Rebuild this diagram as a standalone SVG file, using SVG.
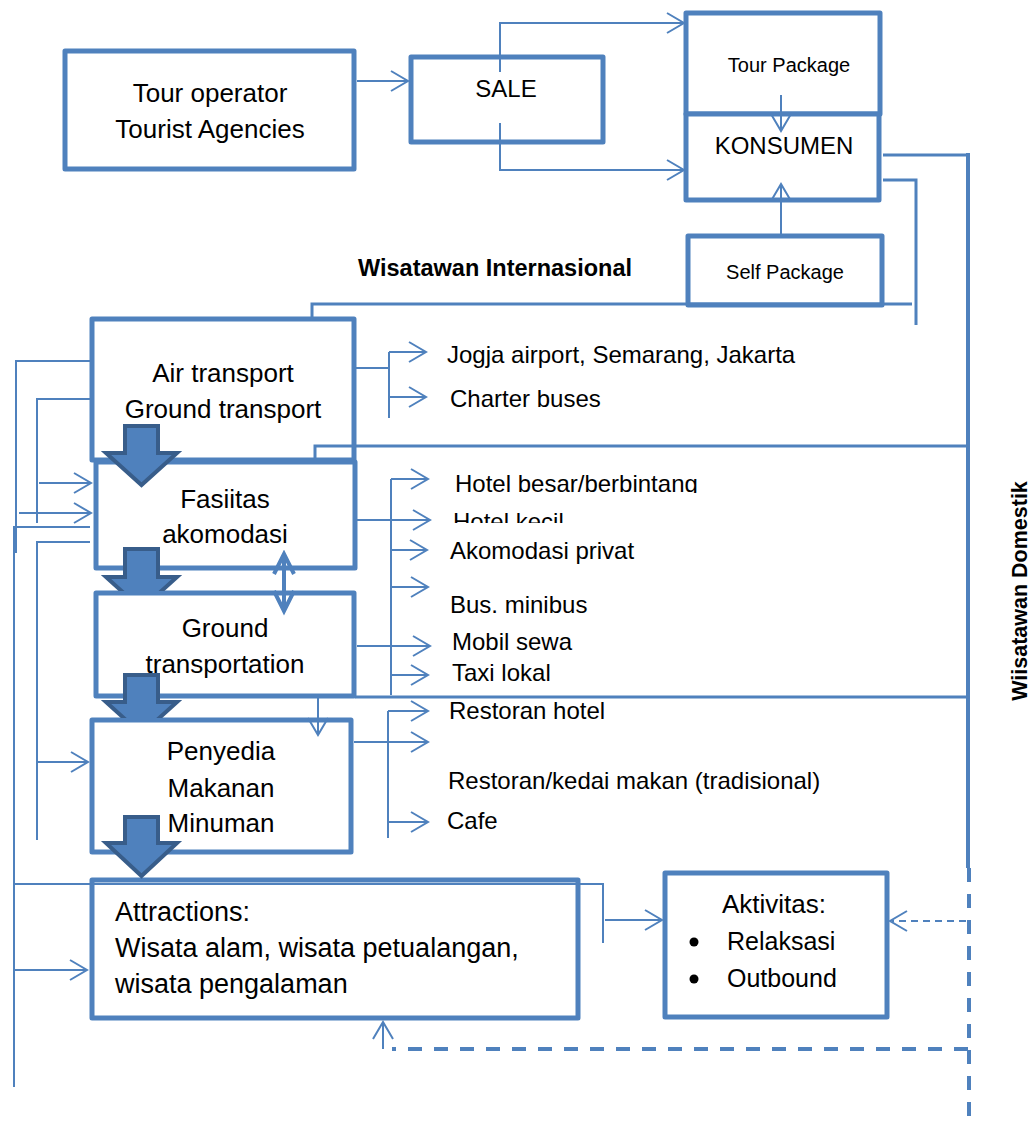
<svg xmlns="http://www.w3.org/2000/svg" width="1030" height="1121" viewBox="0 0 1030 1121">
  <defs>
    <style>
      .box{fill:#fff;stroke:#4F81BD;stroke-width:5;stroke-linejoin:round}
      .ln{fill:none;stroke:#4F81BD;stroke-width:2}
      .lnb{fill:none;stroke:#4F81BD;stroke-width:3}
      .lnk{fill:none;stroke:#4F81BD;stroke-width:4}
      .dash{fill:none;stroke:#4F81BD;stroke-width:4;stroke-dasharray:14 12}
      .dashs{fill:none;stroke:#4F81BD;stroke-width:2;stroke-dasharray:7 5}
      .blk{fill:#4F81BD;stroke:#385D8A;stroke-width:4;stroke-linejoin:miter}
      text{font-family:"Liberation Sans",Arial,sans-serif;fill:#000}
      .lbl{font-size:26px}
      .mid{text-anchor:middle}
      .item{font-size:24px}
      .sm{font-size:20px}
      .bold{font-weight:bold}
    </style>
    <marker id="open" markerUnits="userSpaceOnUse" markerWidth="24" markerHeight="26" viewBox="-20 -13 22 26" refX="0" refY="0" orient="auto">
      <path d="M-17,-10 L0,0 L-17,10" fill="none" stroke="#4F81BD" stroke-width="2"/>
    </marker>
    <marker id="openb" markerUnits="userSpaceOnUse" markerWidth="30" markerHeight="30" viewBox="-24 -15 27 30" refX="0" refY="0" orient="auto">
      <path d="M-20,-10 L0,0 L-20,10" fill="none" stroke="#4F81BD" stroke-width="4"/>
    </marker>
    <clipPath id="cutHotel1"><rect x="440" y="460" width="300" height="33"/></clipPath>
    <clipPath id="cutHotel2"><rect x="440" y="505" width="300" height="18"/></clipPath>
    <clipPath id="cutA2"><rect x="90" y="540" width="100" height="51"/></clipPath>
    <clipPath id="cutA3"><rect x="90" y="665" width="100" height="53"/></clipPath>
  </defs>

  <!-- nodes -->
  <g id="tour-operator">
    <rect class="box" x="65" y="51" width="289" height="118"/>
    <text class="lbl mid" x="210" y="102">Tour operator</text>
    <text class="lbl mid" x="210" y="138">Tourist Agencies</text>
  </g>

  <g id="sale">
    <rect class="box" x="411" y="57" width="192" height="85"/>
    <text class="mid" x="506" y="97" font-size="24">SALE</text>
  </g>

  <g id="tour-package">
    <rect class="box" x="686" y="13" width="194" height="101"/>
    <text class="sm mid" x="789" y="72">Tour Package</text>
  </g>

  <g id="konsumen">
    <rect class="box" x="686" y="114" width="193" height="86"/>
    <text class="mid" x="784" y="154" font-size="24">KONSUMEN</text>
  </g>

  <g id="self-package">
    <rect class="box" x="688" y="236" width="194" height="69"/>
    <text class="sm mid" x="785" y="279">Self Package</text>
  </g>

  <g id="label-internasional">
    <text class="bold" x="358" y="276" font-size="23.5">Wisatawan Internasional</text>
  </g>

  <g id="label-domestik">
    <text class="bold mid" font-size="21.5" transform="translate(1027,591) rotate(-90)">Wiisatawan Domestik</text>
  </g>

  <g id="air-transport">
    <rect class="box" x="92" y="319" width="262" height="141"/>
    <text class="lbl mid" x="223" y="382">Air transport</text>
    <text class="lbl mid" x="223" y="418">Ground transport</text>
  </g>

  <g id="fasilitas-akomodasi">
    <rect class="box" x="96" y="462" width="259" height="106"/>
    <text class="lbl mid" x="225" y="508">Fasiitas</text>
    <text class="lbl mid" x="225" y="543">akomodasi</text>
  </g>

  <g id="ground-transportation">
    <rect class="box" x="96" y="593" width="258" height="103"/>
    <text class="lbl mid" x="225" y="637">Ground</text>
    <text class="lbl mid" x="225" y="673">transportation</text>
  </g>

  <g id="penyedia-makanan">
    <rect class="box" x="92" y="720" width="259" height="132"/>
    <text class="lbl mid" x="221" y="760">Penyedia</text>
    <text class="lbl mid" x="221" y="797">Makanan</text>
    <text class="lbl mid" x="221" y="832">Minuman</text>
  </g>

  <g id="attractions">
    <rect class="box" x="92" y="880" width="486" height="138"/>
    <text x="115" y="921" font-size="27">Attractions:</text>
    <text x="115" y="957" font-size="27">Wisata alam, wisata petualangan,</text>
    <text x="115" y="993" font-size="27">wisata pengalaman</text>
  </g>

  <g id="aktivitas">
    <rect class="box" x="665" y="873" width="222" height="144"/>
    <text x="722" y="913" font-size="26">Aktivitas:</text>
    <circle cx="694" cy="942" r="4.5" fill="#000"/>
    <text x="727" y="950" font-size="25">Relaksasi</text>
    <circle cx="694" cy="979" r="4.5" fill="#000"/>
    <text x="727" y="987" font-size="25">Outbound</text>
  </g>

  <g id="list-transport">
    <text class="item" x="447" y="363">Jogja airport, Semarang, Jakarta</text>
    <text class="item" x="450" y="407">Charter buses</text>
  </g>

  <g id="list-akomodasi">
    <text class="item" x="455" y="492" clip-path="url(#cutHotel1)">Hotel besar/berbintang</text>
    <text class="item" x="453" y="530" clip-path="url(#cutHotel2)">Hotel kecil</text>
    <text class="item" x="450" y="559">Akomodasi privat</text>
    <text class="item" x="450" y="613">Bus. minibus</text>
    <text class="item" x="452" y="650">Mobil sewa</text>
    <text class="item" x="452" y="681">Taxi lokal</text>
  </g>

  <g id="list-makanan">
    <text class="item" x="449" y="719">Restoran hotel</text>
    <text class="item" x="448" y="789">Restoran/kedai makan (tradisional)</text>
    <text class="item" x="447" y="829">Cafe</text>
  </g>

  <!-- connectors -->
  <g id="connectors">
    <!-- top row -->
    <path class="ln" d="M357 81 H408" marker-end="url(#open)"/>
    <path class="ln" d="M500 72 V23 H684" marker-end="url(#open)"/>
    <path class="ln" d="M500 123 V170 H684" marker-end="url(#open)"/>
    <path class="ln" d="M781 95 V131" marker-end="url(#open)"/>
    <path class="ln" d="M781 235 V184" marker-end="url(#open)"/>

    <!-- right-hand feeders -->
    <path class="lnb" d="M883 155 H968"/>
    <path class="lnk" d="M968 153 V868"/>
    <path class="dash" d="M969 868 V1121"/>
    <path class="lnb" d="M883 180 H916 V325"/>
    <path class="lnb" d="M312 318 V304 H912"/>
    <path class="lnb" d="M315 461 V446 H968"/>
    <path class="lnb" d="M355 697 H968"/>
    <path class="ln" d="M318 697 V735" marker-end="url(#open)"/>

    <!-- left-hand feeders -->
    <path class="ln" d="M90 361 H16 V553"/>
    <path class="ln" d="M90 399 H37 V523"/>
    <path class="ln" d="M39 483 H91" marker-end="url(#open)"/>
    <path class="ln" d="M19 513 H91" marker-end="url(#open)"/>
    <path class="ln" d="M90 527 H14 V1087"/>
    <path class="ln" d="M90 542 H37 V840"/>
    <path class="ln" d="M37 762 H88" marker-end="url(#open)"/>
    <path class="ln" d="M14 970 H87" marker-end="url(#open)"/>
    <path class="ln" d="M14 884 H603 V943"/>
    <path class="ln" d="M605 920 H662" marker-end="url(#open)"/>

    <!-- dashed return paths -->
    <path class="dashs" d="M966 921 H892"/>
    <path class="ln" d="M966 921 H890" stroke-opacity="0" marker-end="url(#open)"/>
    <path class="dash" d="M968 1049 H392"/>
    <path class="ln" d="M383 1049 V1022" marker-end="url(#open)"/>

    <!-- transport list -->
    <path class="ln" d="M356 368 H389"/>
    <path class="ln" d="M389 352 V418"/>
    <path class="ln" d="M389 352 H426" marker-end="url(#open)"/>
    <path class="ln" d="M389 397 H426" marker-end="url(#open)"/>

    <!-- akomodasi / ground list -->
    <path class="ln" d="M357 520 H391"/>
    <path class="ln" d="M357 646 H391"/>
    <path class="ln" d="M391 479 V695"/>
    <path class="ln" d="M391 479 H428" marker-end="url(#open)"/>
    <path class="ln" d="M391 520 H430" marker-end="url(#open)"/>
    <path class="ln" d="M391 550 H427" marker-end="url(#open)"/>
    <path class="ln" d="M391 587 H428" marker-end="url(#open)"/>
    <path class="ln" d="M391 646 H430" marker-end="url(#open)"/>
    <path class="ln" d="M391 675 H428" marker-end="url(#open)"/>

    <!-- makanan list -->
    <path class="ln" d="M354 742 H388"/>
    <path class="ln" d="M388 711 V838"/>
    <path class="ln" d="M388 711 H428" marker-end="url(#open)"/>
    <path class="ln" d="M388 742 H428" marker-end="url(#open)"/>
    <path class="ln" d="M388 822 H428" marker-end="url(#open)"/>

    <!-- two-way link between akomodasi and ground transportation -->
    <path class="lnk" d="M284 575 V554" marker-end="url(#openb)"/>
    <path class="lnk" d="M284 590 V611" marker-end="url(#openb)"/>
    <path class="lnk" d="M284 554 V611"/>

    <!-- block arrows down the chain -->
    <polygon class="blk" points="125,426 158,426 158,453 177,453 141.5,485 106,453 125,453"/>
    <polygon class="blk" clip-path="url(#cutA2)" points="125,549 158,549 158,577 177,577 141.5,609 106,577 125,577"/>
    <polygon class="blk" clip-path="url(#cutA3)" points="125,675 158,675 158,702 177,702 141.5,734 106,702 125,702"/>
    <polygon class="blk" points="125,817 158,817 158,843 177,843 141.5,876 106,843 125,843"/>
  </g>
</svg>
